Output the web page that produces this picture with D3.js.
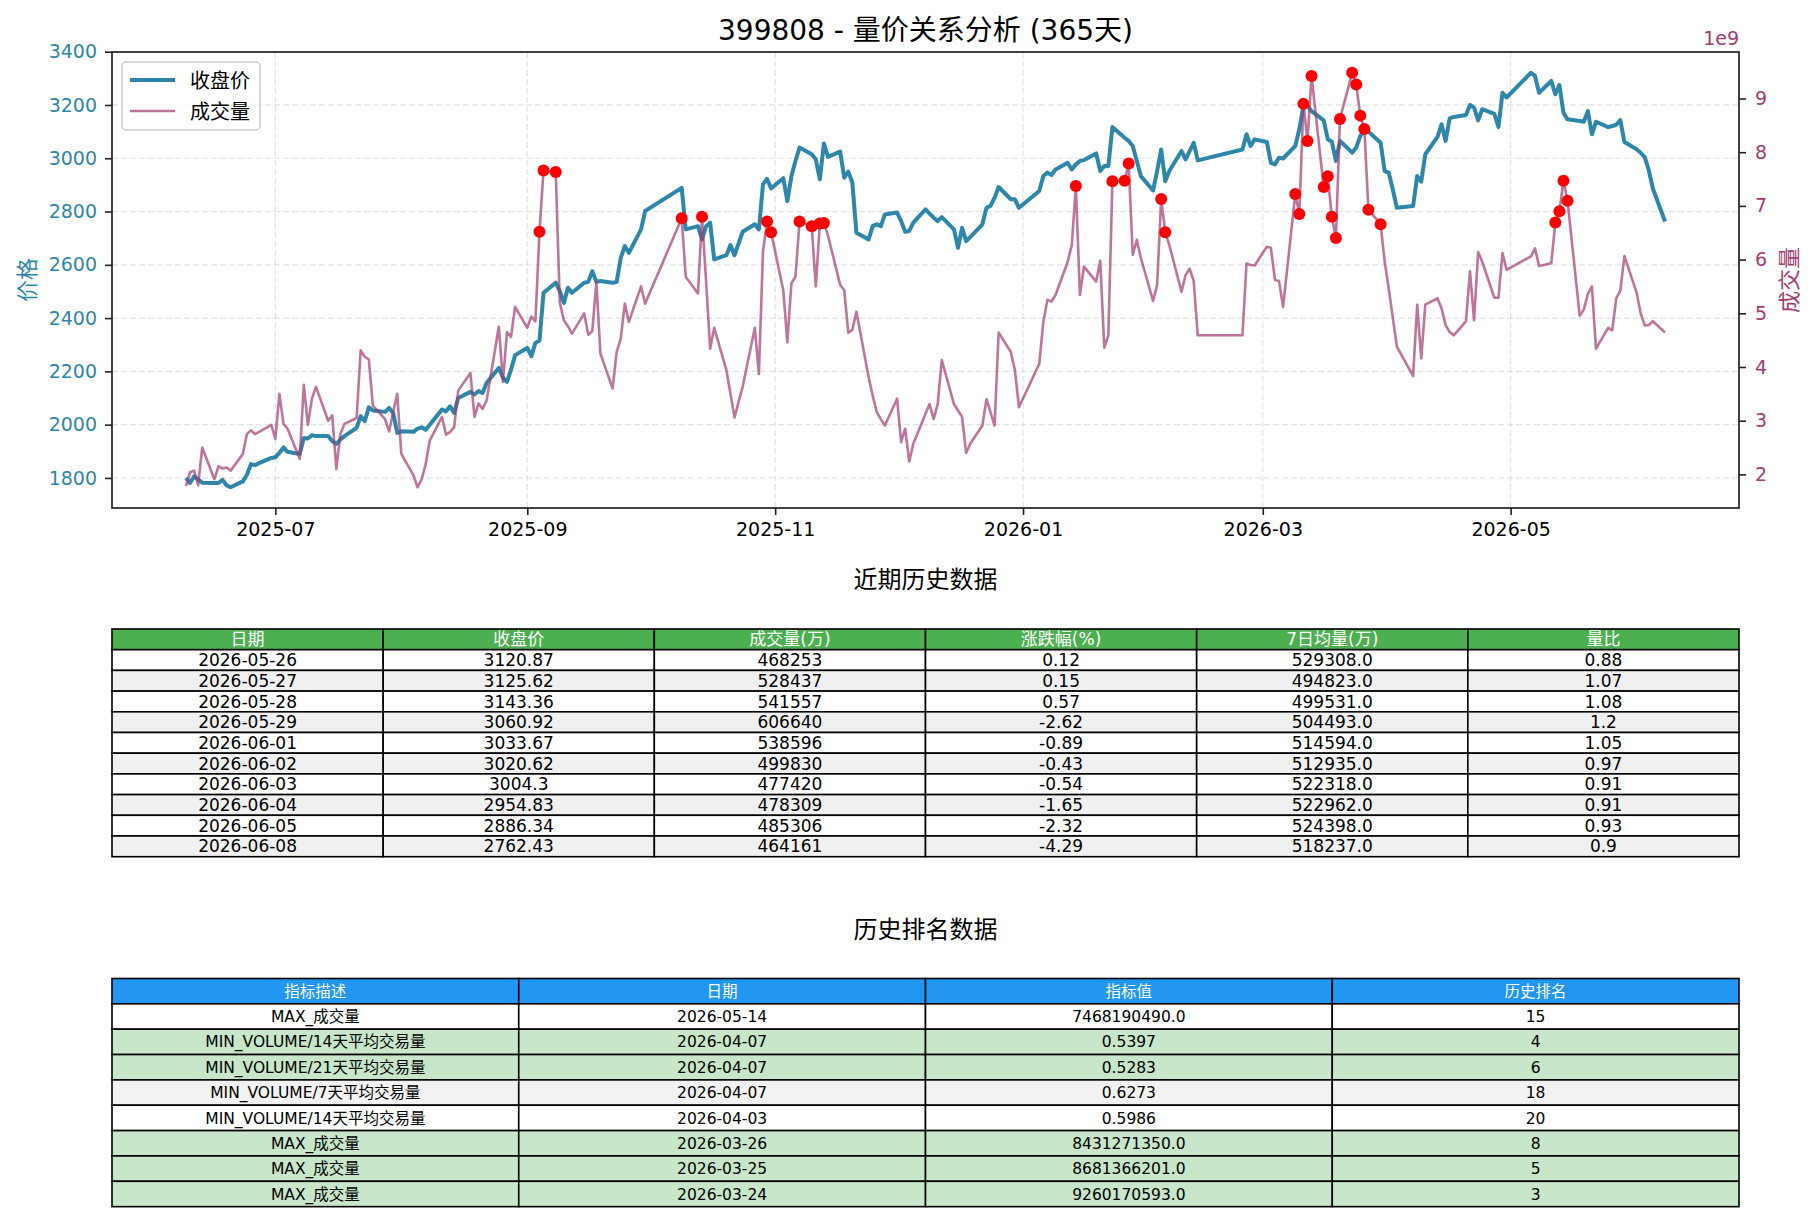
<!DOCTYPE html>
<html>
<head>
<meta charset="utf-8">
<script src="https://cdn.jsdelivr.net/npm/d3@7"></script>
<style>
body { margin: 0; background: #ffffff; }
svg text { font-family: "DejaVu Sans", "Noto Sans CJK SC", sans-serif; }
</style>
</head>
<body>
<div id="canvas"></div>
<script>
"use strict"

/* trading days, one line per month */
const dates = [
    "2025-06-09","2025-06-10","2025-06-11","2025-06-12","2025-06-13","2025-06-16","2025-06-17","2025-06-18","2025-06-19","2025-06-20","2025-06-23","2025-06-24","2025-06-25","2025-06-26","2025-06-27","2025-06-30",
    "2025-07-01","2025-07-02","2025-07-03","2025-07-04","2025-07-07","2025-07-08","2025-07-09","2025-07-10","2025-07-11","2025-07-14","2025-07-15","2025-07-16","2025-07-17","2025-07-18","2025-07-21","2025-07-22","2025-07-23","2025-07-24","2025-07-25","2025-07-28","2025-07-29","2025-07-30","2025-07-31",
    "2025-08-01","2025-08-04","2025-08-05","2025-08-06","2025-08-07","2025-08-08","2025-08-11","2025-08-12","2025-08-13","2025-08-14","2025-08-15","2025-08-18","2025-08-19","2025-08-20","2025-08-21","2025-08-22","2025-08-25","2025-08-26","2025-08-27","2025-08-28","2025-08-29",
    "2025-09-01","2025-09-02","2025-09-03","2025-09-04","2025-09-05","2025-09-08","2025-09-09","2025-09-10","2025-09-11","2025-09-12","2025-09-15","2025-09-16","2025-09-17","2025-09-18","2025-09-19","2025-09-22","2025-09-23","2025-09-24","2025-09-25","2025-09-26","2025-09-29","2025-09-30",
    "2025-10-09","2025-10-10","2025-10-13","2025-10-14","2025-10-15","2025-10-16","2025-10-17","2025-10-20","2025-10-21","2025-10-22","2025-10-23","2025-10-24","2025-10-27","2025-10-28","2025-10-29","2025-10-30","2025-10-31",
    "2025-11-03","2025-11-04","2025-11-05","2025-11-06","2025-11-07","2025-11-10","2025-11-11","2025-11-12","2025-11-13","2025-11-14","2025-11-17","2025-11-18","2025-11-19","2025-11-20","2025-11-21","2025-11-24","2025-11-25","2025-11-26","2025-11-27","2025-11-28",
    "2025-12-01","2025-12-02","2025-12-03","2025-12-04","2025-12-05","2025-12-08","2025-12-09","2025-12-10","2025-12-11","2025-12-12","2025-12-15","2025-12-16","2025-12-17","2025-12-18","2025-12-19","2025-12-22","2025-12-23","2025-12-24","2025-12-25","2025-12-26","2025-12-29","2025-12-30","2025-12-31",
    "2026-01-05","2026-01-06","2026-01-07","2026-01-08","2026-01-09","2026-01-12","2026-01-13","2026-01-14","2026-01-15","2026-01-16","2026-01-19","2026-01-20","2026-01-21","2026-01-22","2026-01-23","2026-01-26","2026-01-27","2026-01-28","2026-01-29","2026-01-30",
    "2026-02-02","2026-02-03","2026-02-04","2026-02-05","2026-02-06","2026-02-09","2026-02-10","2026-02-11","2026-02-12","2026-02-13","2026-02-24","2026-02-25","2026-02-26","2026-02-27",
    "2026-03-02","2026-03-03","2026-03-04","2026-03-05","2026-03-06","2026-03-09","2026-03-10","2026-03-11","2026-03-12","2026-03-13","2026-03-16","2026-03-17","2026-03-18","2026-03-19","2026-03-20","2026-03-23","2026-03-24","2026-03-25","2026-03-26","2026-03-27","2026-03-30","2026-03-31",
    "2026-04-01","2026-04-02","2026-04-03","2026-04-07","2026-04-08","2026-04-09","2026-04-10","2026-04-13","2026-04-14","2026-04-15","2026-04-16","2026-04-17","2026-04-20","2026-04-21","2026-04-22","2026-04-23","2026-04-24","2026-04-27","2026-04-28","2026-04-29","2026-04-30",
    "2026-05-06","2026-05-07","2026-05-08","2026-05-11","2026-05-12","2026-05-13","2026-05-14","2026-05-15","2026-05-18","2026-05-19","2026-05-20","2026-05-21","2026-05-22","2026-05-25","2026-05-26","2026-05-27","2026-05-28","2026-05-29",
    "2026-06-01","2026-06-02","2026-06-03","2026-06-04","2026-06-05","2026-06-08"
];

/* close price */
const closes = [
    1800,1781,1806,1795,1782,1781,1781,1793,1772,1765,1787,1812,1852,1848,1856,1875,
    1878,1894,1915,1898,1890,1950,1948,1960,1957,1957,1938,1928,1944,1957,1988,2032,2013,2065,2053,2048,2063,2044,1969,
    1975,1973,1985,1990,1981,2000,2057,2050,2069,2044,2100,2123,2113,2126,2119,2157,2213,2176,2161,2207,2261,
    2288,2257,2307,2316,2495,2533,2501,2457,2514,2495,2533,2536,2576,2536,2539,2533,2536,2626,2670,2645,2733,2802,
    2889,2733,2745,2695,2745,2758,2620,2636,2674,2636,2680,2724,2752,2733,2902,2923,2887,
    2925,2839,2933,2990,3040,3015,2996,2921,3055,3005,3025,2927,2950,2908,2720,2695,2745,2752,2745,2789,
    2796,2764,2724,2727,2758,2808,2792,2777,2764,2779,2733,2664,2739,2689,2704,2752,2814,2821,2852,2892,2846,2846,2814,
    2877,2933,2946,2937,2958,2983,2958,2977,2990,2993,3018,2952,2971,2971,3117,3077,3065,3046,2990,2933,
    2879,2952,3033,2914,2952,3027,2996,3027,3058,2992,3033,3090,3046,3071,
    3061,2983,2977,3002,2999,3046,3109,3196,3196,3177,3142,3071,3062,2990,3065,3021,3040,3084,3109,3100,3058,2952,
    2946,2883,2814,2821,2933,2912,3015,3080,3127,3065,3150,3155,3162,3200,3190,3142,3184,3167,3117,3246,3228,
    3321,3309,3246,3290,3240,3275,3171,3146,3140,3137,3177,3090,3137,3117,3120.87,3125.62,3143.36,3060.92,
    3033.67,3020.62,3004.30,2954.83,2886.34,2762.43
];

/* volume, in units of 1e9 */
const volumes = [
    1.78,2.04,2.07,1.80,2.50,1.91,2.15,2.11,2.13,2.07,2.38,2.75,2.82,2.75,2.79,2.92,
    2.66,3.50,2.94,2.85,2.29,3.67,2.92,3.41,3.63,3.00,3.10,2.10,2.75,2.94,3.05,4.31,4.19,4.14,3.28,3.03,2.80,3.16,3.50,
    2.38,1.98,1.76,1.91,2.19,2.63,3.07,2.74,2.79,2.88,3.56,3.89,3.07,3.32,3.22,3.38,4.75,3.72,4.65,4.56,5.12,
    4.73,4.94,4.85,6.52,7.66,7.63,5.20,4.87,4.76,4.62,5.00,4.60,4.67,5.58,4.25,3.60,4.28,4.53,5.18,4.84,5.50,5.18,
    6.77,5.68,5.37,6.80,5.60,4.34,4.73,3.94,3.50,3.06,3.35,3.63,4.73,3.87,6.15,6.71,6.51,
    5.43,4.46,5.56,5.68,6.71,6.62,5.50,6.67,6.68,6.45,5.53,5.43,4.64,4.69,5.03,3.81,3.47,3.16,3.03,2.91,
    3.41,2.60,2.85,2.24,2.57,3.13,3.31,3.03,3.31,4.13,3.31,3.19,3.07,2.40,2.57,2.91,3.40,3.16,2.91,4.64,4.28,3.94,3.25,
    4.06,4.84,5.25,5.22,5.34,5.96,6.27,7.37,5.34,5.87,5.59,5.98,4.36,4.59,7.46,7.47,7.79,6.09,6.37,6.03,
    5.23,5.53,7.13,6.51,6.27,5.40,5.71,5.83,5.60,4.59,4.59,5.93,5.90,5.89,
    6.24,6.22,5.62,5.60,5.12,7.22,6.85,8.90,8.21,9.42,7.35,7.55,6.80,6.40,8.62,9.48,9.260,8.681,8.431,6.93,6.66,5.96,
    5.46,4.92,4.38,3.83,5.16,4.16,5.16,5.28,5.09,4.78,4.65,4.59,4.85,5.78,4.87,6.14,5.96,5.29,5.29,6.12,5.81,
    6.06,6.21,5.88,5.93,6.69,6.90,7.468,7.097,4.955,5.068,5.359,5.502,4.342,4.729,4.683,5.284,5.416,6.066,
    5.386,4.998,4.774,4.783,4.853,4.642
];

/* days flagged with a red dot on the volume line */
const spikeDates = [
    "2025-09-04","2025-09-05","2025-09-08","2025-10-09","2025-10-14","2025-10-30","2025-10-31",
    "2025-11-07","2025-11-10","2025-11-12","2025-11-13",
    "2026-01-14","2026-01-23","2026-01-26","2026-01-27","2026-02-04","2026-02-05",
    "2026-03-09","2026-03-10","2026-03-11","2026-03-12","2026-03-13","2026-03-16","2026-03-17","2026-03-18",
    "2026-03-19","2026-03-20","2026-03-23","2026-03-24","2026-03-25","2026-03-26","2026-03-27","2026-03-30",
    "2026-05-12","2026-05-13","2026-05-14","2026-05-15"
];

const xTickLabels = ["2025-07", "2025-09", "2025-11", "2026-01", "2026-03", "2026-05"];
const priceTicks = [1800, 2000, 2200, 2400, 2600, 2800, 3000, 3200, 3400];
const volumeTicks = [2, 3, 4, 5, 6, 7, 8, 9];

/* recent history table */
const recentHeaders = ["日期", "收盘价", "成交量(万)", "涨跌幅(%)", "7日均量(万)", "量比"];
const recentDates = ["2026-05-26","2026-05-27","2026-05-28","2026-05-29","2026-06-01","2026-06-02","2026-06-03","2026-06-04","2026-06-05","2026-06-08"];
const recentClose = ["3120.87","3125.62","3143.36","3060.92","3033.67","3020.62","3004.3","2954.83","2886.34","2762.43"];
const recentVolume = ["468253","528437","541557","606640","538596","499830","477420","478309","485306","464161"];
const recentChange = ["0.12","0.15","0.57","-2.62","-0.89","-0.43","-0.54","-1.65","-2.32","-4.29"];
const recentAvg7 = ["529308.0","494823.0","499531.0","504493.0","514594.0","512935.0","522318.0","522962.0","524398.0","518237.0"];
const recentRatio = ["0.88","1.07","1.08","1.2","1.05","0.97","0.91","0.91","0.93","0.9"];

/* ranking table */
const rankHeaders = ["指标描述", "日期", "指标值", "历史排名"];
const rankNames = ["MAX_成交量","MIN_VOLUME/14天平均交易量","MIN_VOLUME/21天平均交易量","MIN_VOLUME/7天平均交易量","MIN_VOLUME/14天平均交易量","MAX_成交量","MAX_成交量","MAX_成交量"];
const rankDates = ["2026-05-14","2026-04-07","2026-04-07","2026-04-07","2026-04-03","2026-03-26","2026-03-25","2026-03-24"];
const rankValues = ["7468190490.0","0.5397","0.5283","0.6273","0.5986","8431271350.0","8681366201.0","9260170593.0"];
const rankPlaces = [15, 4, 6, 18, 20, 8, 5, 3];

/* layout */
const plot = {left: 112, right: 1739, top: 52, bottom: 508};
const priceColor = "#2E86AB";
const volumeColor = "#A23B72";

let drawing = d3.select("#canvas")
    .append("svg")
    .attr("width", 1815)
    .attr("height", 1222);

drawing.append("rect")
    .attr("width", 1815)
    .attr("height", 1222)
    .attr("fill", "white");

/* scales, padded 5% like matplotlib */
const parseDate = d3.timeParse("%Y-%m-%d");
const days = dates.map(parseDate);

function padded(extent) {
    let span = extent[1] - extent[0];
    return [extent[0] - span * 0.05, extent[1] + span * 0.05];
}

let tExtent = padded(d3.extent(days, d => +d));
let x = d3.scaleTime()
    .domain([new Date(tExtent[0]), new Date(tExtent[1])])
    .range([plot.left, plot.right]);

let yPrice = d3.scaleLinear()
    .domain(padded(d3.extent(closes)))
    .range([plot.bottom, plot.top]);

let yVolume = d3.scaleLinear()
    .domain(padded(d3.extent(volumes)))
    .range([plot.bottom, plot.top]);

const xTicks = xTickLabels.map(d3.timeParse("%Y-%m"));

/* grid */
let grid = drawing.append("g")
    .attr("stroke", "#b0b0b0")
    .attr("stroke-opacity", 0.35)
    .attr("stroke-width", 1.2)
    .attr("stroke-dasharray", "6,3");

grid.selectAll(".gx").data(xTicks).enter().append("line")
    .attr("x1", d => x(d)).attr("x2", d => x(d))
    .attr("y1", plot.top).attr("y2", plot.bottom);

grid.selectAll(".gy").data(priceTicks).enter().append("line")
    .attr("x1", plot.left).attr("x2", plot.right)
    .attr("y1", d => yPrice(d)).attr("y2", d => yPrice(d));

/* price line */
let priceLine = d3.line()
    .x((d, i) => x(days[i]))
    .y(d => yPrice(d));

drawing.append("path")
    .datum(closes)
    .attr("d", priceLine)
    .attr("fill", "none")
    .attr("stroke", priceColor)
    .attr("stroke-width", 4)
    .attr("stroke-linejoin", "round");

/* volume line */
let volumeLine = d3.line()
    .x((d, i) => x(days[i]))
    .y(d => yVolume(d));

drawing.append("path")
    .datum(volumes)
    .attr("d", volumeLine)
    .attr("fill", "none")
    .attr("stroke", volumeColor)
    .attr("stroke-opacity", 0.7)
    .attr("stroke-width", 2.6)
    .attr("stroke-linejoin", "round");

/* spikes */
let spikeIndex = spikeDates.map(s => dates.indexOf(s));
drawing.selectAll(".spike").data(spikeIndex).enter().append("circle")
    .attr("cx", i => x(days[i]))
    .attr("cy", i => yVolume(volumes[i]))
    .attr("r", 6)
    .attr("fill", "#ff0000");

/* axes */
function styleAxis(g, color) {
    g.select(".domain").remove();
    g.selectAll(".tick line").attr("stroke", "#222").attr("stroke-width", 1.6);
    g.selectAll(".tick text")
        .attr("font-size", 19)
        .attr("fill", color)
        .style("font-family", "'DejaVu Sans', sans-serif");
}

let xAxis = drawing.append("g")
    .attr("transform", "translate(0," + plot.bottom + ")")
    .call(d3.axisBottom(x).tickValues(xTicks).tickFormat(d3.timeFormat("%Y-%m")).tickSize(7).tickPadding(8));
styleAxis(xAxis, "#000");

let leftAxis = drawing.append("g")
    .attr("transform", "translate(" + plot.left + ",0)")
    .call(d3.axisLeft(yPrice).tickValues(priceTicks).tickFormat(d3.format("d")).tickSize(7).tickPadding(8));
styleAxis(leftAxis, priceColor);

let rightAxis = drawing.append("g")
    .attr("transform", "translate(" + plot.right + ",0)")
    .call(d3.axisRight(yVolume).tickValues(volumeTicks).tickFormat(d3.format("d")).tickSize(7).tickPadding(9));
styleAxis(rightAxis, volumeColor);

/* frame */
drawing.append("rect")
    .attr("x", plot.left)
    .attr("y", plot.top)
    .attr("width", plot.right - plot.left)
    .attr("height", plot.bottom - plot.top)
    .attr("fill", "none")
    .attr("stroke", "#222")
    .attr("stroke-width", 1.7);

drawing.append("text")
    .attr("x", plot.right)
    .attr("y", 45)
    .attr("text-anchor", "end")
    .attr("font-size", 19)
    .attr("fill", volumeColor)
    .text("1e9");

/* axis titles */
drawing.append("text")
    .attr("transform", "translate(35," + (plot.top + plot.bottom) / 2 + ") rotate(-90)")
    .attr("text-anchor", "middle")
    .attr("font-size", 22)
    .attr("fill", priceColor)
    .text("价格");

drawing.append("text")
    .attr("transform", "translate(1797," + (plot.top + plot.bottom) / 2 + ") rotate(-90)")
    .attr("text-anchor", "middle")
    .attr("font-size", 22)
    .attr("fill", volumeColor)
    .text("成交量");

drawing.append("text")
    .attr("x", (plot.left + plot.right) / 2)
    .attr("y", 40)
    .attr("text-anchor", "middle")
    .attr("font-size", 28)
    .attr("fill", "#000")
    .text("399808 - 量价关系分析 (365天)");

/* legend */
let legend = drawing.append("g");
legend.append("rect")
    .attr("x", 122).attr("y", 62)
    .attr("width", 138).attr("height", 68)
    .attr("rx", 4)
    .attr("fill", "white").attr("fill-opacity", 0.8)
    .attr("stroke", "#cccccc").attr("stroke-width", 1.5);
legend.append("line")
    .attr("x1", 130).attr("x2", 175).attr("y1", 80).attr("y2", 80)
    .attr("stroke", priceColor).attr("stroke-width", 4);
legend.append("line")
    .attr("x1", 130).attr("x2", 175).attr("y1", 111).attr("y2", 111)
    .attr("stroke", volumeColor).attr("stroke-opacity", 0.7).attr("stroke-width", 2.6);
legend.append("text").attr("x", 190).attr("y", 88).attr("font-size", 20).text("收盘价");
legend.append("text").attr("x", 190).attr("y", 119).attr("font-size", 20).text("成交量");

/* tables */
function drawTable(top, rowH, headers, rows, headerFill, rowFill, fontSize) {
    let colW = (plot.right - plot.left) / headers.length;
    let t = drawing.append("g");

    let head = t.selectAll(".h").data(headers).enter().append("g")
        .attr("transform", (d, j) => "translate(" + (plot.left + j * colW) + "," + top + ")");
    head.append("rect")
        .attr("width", colW).attr("height", rowH)
        .attr("fill", headerFill).attr("stroke", "#000").attr("stroke-width", 1.6);
    head.append("text")
        .attr("x", colW / 2).attr("y", rowH / 2).attr("dy", "0.36em")
        .attr("text-anchor", "middle").attr("font-size", fontSize).attr("fill", "white")
        .text(d => d);

    rows.forEach((row, i) => {
        let cells = t.selectAll(".r" + i).data(row).enter().append("g")
            .attr("transform", (d, j) => "translate(" + (plot.left + j * colW) + "," + (top + (i + 1) * rowH) + ")");
        cells.append("rect")
            .attr("width", colW).attr("height", rowH)
            .attr("fill", rowFill(i)).attr("stroke", "#000").attr("stroke-width", 1.6);
        cells.append("text")
            .attr("x", colW / 2).attr("y", rowH / 2).attr("dy", "0.36em")
            .attr("text-anchor", "middle").attr("font-size", fontSize).attr("fill", "#000")
            .text(d => d);
    });
}

drawing.append("text")
    .attr("x", (plot.left + plot.right) / 2).attr("y", 588)
    .attr("text-anchor", "middle").attr("font-size", 24)
    .text("近期历史数据");

let recentRows = recentDates.map((d, i) => [d, recentClose[i], recentVolume[i], recentChange[i], recentAvg7[i], recentRatio[i]]);
drawTable(629, 20.7, recentHeaders, recentRows, "#4CAF50", i => i % 2 ? "#f0f0f0" : "#ffffff", 17);

drawing.append("text")
    .attr("x", (plot.left + plot.right) / 2).attr("y", 938)
    .attr("text-anchor", "middle").attr("font-size", 24)
    .text("历史排名数据");

let rankRows = rankNames.map((d, i) => [d, rankDates[i], rankValues[i], rankPlaces[i]]);
drawTable(978.5, 25.35, rankHeaders, rankRows, "#2196F3",
    i => rankPlaces[i] <= 10 ? "#C8E6C9" : (i % 2 ? "#f2f2f2" : "#ffffff"), 15.5);
</script>
</body>
</html>
